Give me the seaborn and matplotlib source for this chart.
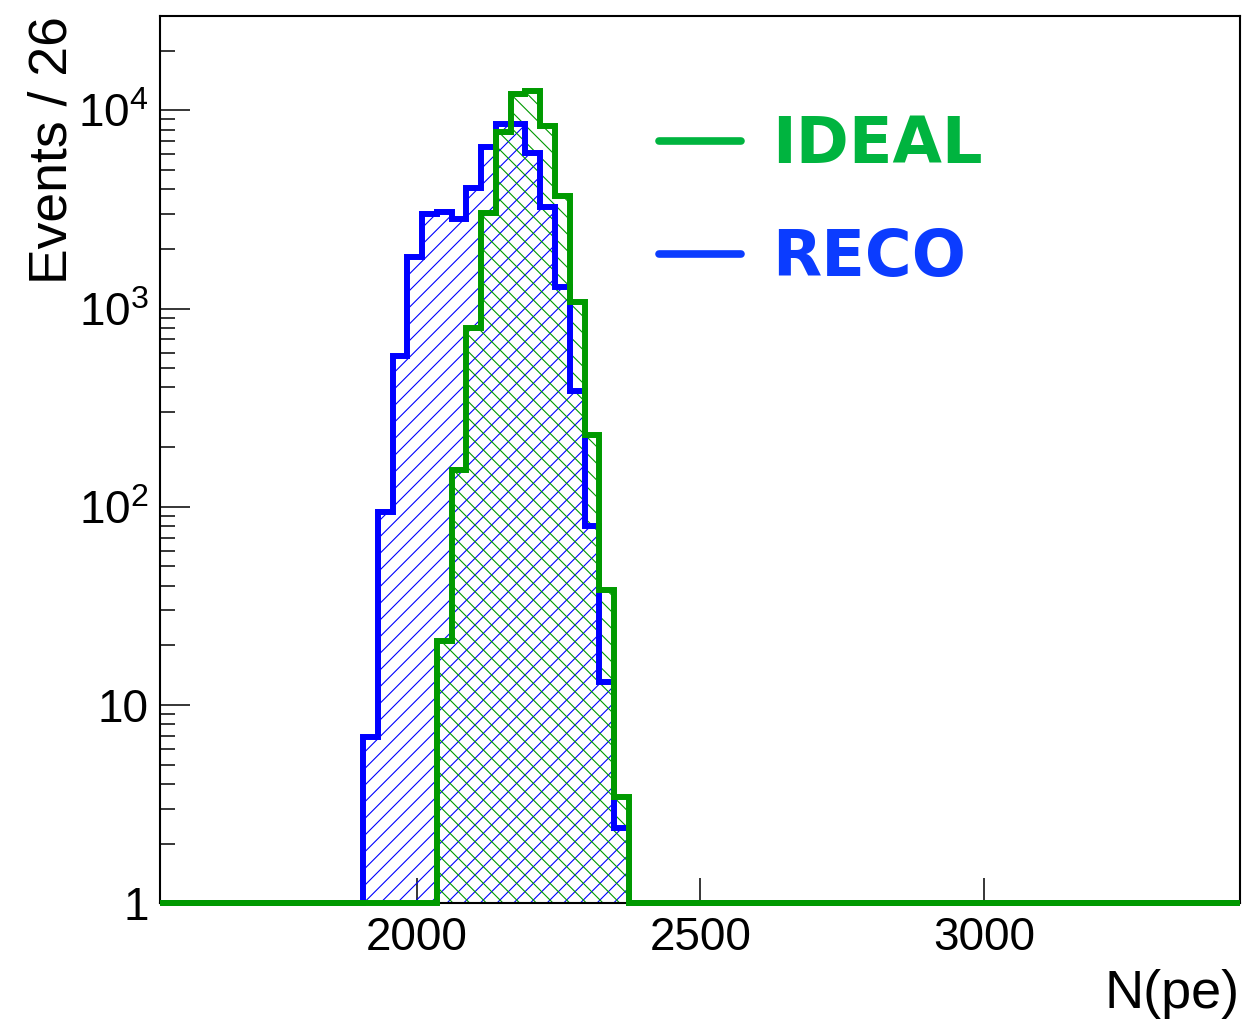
import numpy as np
import matplotlib
matplotlib.use("Agg")
import matplotlib.pyplot as plt
from matplotlib.lines import Line2D
from matplotlib.ticker import FixedLocator, FixedFormatter, LogLocator, NullFormatter, NullLocator
import seaborn as sns

# ---- histogram contents (bin width 26 photo-electrons) ----
x_range = (1548.0, 3451.0)
y_range = (1.0, 3.0e4)
bin_width = 26.0
first_edge = 1906.0

reco_counts = [6.9, 94, 575, 1830, 3000, 3080, 2830, 4050, 6560, 8540,
               8540, 6100, 3240, 1290, 385, 80, 13, 2.4]
ideal_counts = [0, 0, 0, 0, 0, 21, 153, 800, 3050, 7730,
                12050, 12530, 8340, 3700, 1074, 230, 38, 3.45]

series_names = ["IDEAL", "RECO"]
x_ticks = [2000, 2500, 3000]
x_tick_labels = ["2000", "2500", "3000"]
y_ticks = [1, 10, 100, 1000, 10000]
y_tick_labels = ["1", "10", "$10^{2}$", "$10^{3}$", "$10^{4}$"]

# ---- styling ----
sns.set_theme(style="ticks")
plt.rcParams["font.family"] = ["Liberation Sans", "DejaVu Sans"]
plt.rcParams["mathtext.fontset"] = "custom"
plt.rcParams["mathtext.rm"] = "Liberation Sans"
plt.rcParams["mathtext.it"] = "Liberation Sans:italic"
plt.rcParams["mathtext.bf"] = "Liberation Sans:bold"
plt.rcParams["mathtext.default"] = "regular"
plt.rcParams["hatch.linewidth"] = 0.8

line_colors = {"IDEAL": "#009a00", "RECO": "#0000ff"}
label_colors = {"IDEAL": "#00b43f", "RECO": "#0b3cff"}
hatches = {"IDEAL": "\\\\", "RECO": "//"}

# full-range binning: one empty bin on each side up to the axis limits
inner_edges = first_edge + bin_width * np.arange(len(reco_counts) + 1)
edges = np.concatenate([[x_range[0]], inner_edges, [x_range[1]]])
bin_list = [float(e) for e in edges]
centers = 0.5 * (edges[:-1] + edges[1:])
counts = {
    "RECO": np.concatenate([[0.0], reco_counts, [0.0]]),
    "IDEAL": np.concatenate([[0.0], ideal_counts, [0.0]]),
}

fig = plt.figure(figsize=(12.46, 10.21), dpi=100)
ax = fig.add_axes([0.12841, 0.11528, 0.86677, 0.86934])
ax.set_yscale("log")

# hatched areas
for name in ["RECO", "IDEAL"]:
    sns.histplot(x=centers, weights=counts[name], bins=bin_list, element="step",
                 fill=True, color=line_colors[name], facecolor="none",
                 edgecolor=line_colors[name], linewidth=0,
                 hatch=hatches[name], ax=ax)

# outlines; empty bins sit on the bottom of the frame, above the spine
for name in ["RECO", "IDEAL"]:
    sns.histplot(x=centers, weights=np.maximum(counts[name], y_range[0]),
                 bins=bin_list, element="step", fill=False,
                 color=line_colors[name], linewidth=4.3, clip_on=False,
                 solid_joinstyle="miter", solid_capstyle="butt", zorder=3,
                 ax=ax)

ax.set_xlim(*x_range)
ax.set_ylim(*y_range)

# axes frame and ticks
for sp in ax.spines.values():
    sp.set_visible(True)
    sp.set_color("black")
    sp.set_linewidth(1.5)

ax.xaxis.set_major_locator(FixedLocator(x_ticks))
ax.xaxis.set_major_formatter(FixedFormatter(x_tick_labels))
ax.xaxis.set_minor_locator(NullLocator())
ax.yaxis.set_major_locator(FixedLocator(y_ticks))
ax.yaxis.set_major_formatter(FixedFormatter(y_tick_labels))
ax.yaxis.set_minor_locator(LogLocator(base=10, subs=np.arange(2, 10)))
ax.yaxis.set_minor_formatter(NullFormatter())

ax.tick_params(axis="x", which="major", direction="in", length=18, width=1.1,
               pad=9, labelsize=33, top=False, bottom=True, colors="black")
ax.tick_params(axis="y", which="major", direction="in", length=21.5, width=1.1,
               pad=8, labelsize=33, left=True, right=False, colors="black")
ax.tick_params(axis="y", which="minor", direction="in", length=10.5, width=1.1,
               left=True, right=False, colors="black")

ax.set_xlabel("N(pe)", fontsize=39, loc="right", color="black")
ax.xaxis.set_label_coords(1.0, -0.074)
ax.set_ylabel("Events / 26", fontsize=38.5, loc="top", color="black")
ax.yaxis.set_label_coords(-0.076, 1.0)

# legend
handles = [Line2D([], [], color=label_colors[n], linewidth=5.5) for n in series_names]
leg = ax.legend(handles, series_names, loc="upper left",
                bbox_to_anchor=(0.4625, 0.889), frameon=False,
                prop={"family": "DejaVu Sans", "weight": "bold", "size": 46},
                handlelength=1.27, handletextpad=0.5, labelspacing=0.8,
                borderpad=0, borderaxespad=0)
for txt, n in zip(leg.get_texts(), series_names):
    txt.set_color(label_colors[n])

fig.savefig("out.png", dpi=100)
